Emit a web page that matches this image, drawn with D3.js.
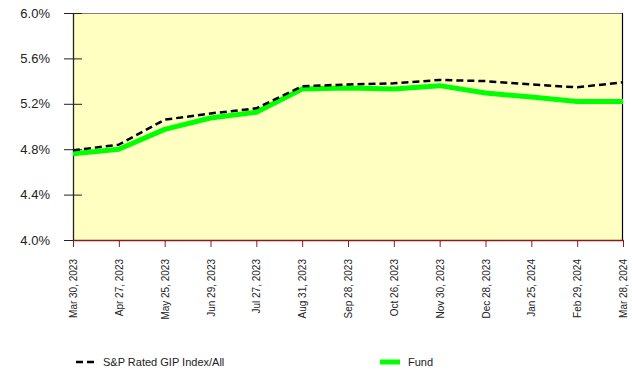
<!DOCTYPE html>
<html>
<head>
<meta charset="utf-8">
<script src="https://cdn.jsdelivr.net/npm/d3@7"></script>
<style>
  html, body { margin: 0; padding: 0; background: #fff; }
  svg text { font-family: "Liberation Sans", Arial, sans-serif; }
</style>
</head>
<body>
<svg id="chart" width="632" height="371"></svg>
<script>
// Month-end dates shown on the horizontal axis
const dates = ["Mar 30, 2023", "Apr 27, 2023", "May 25, 2023", "Jun 29, 2023", "Jul 27, 2023",
  "Aug 31, 2023", "Sep 28, 2023", "Oct 26, 2023", "Nov 30, 2023", "Dec 28, 2023",
  "Jan 25, 2024", "Feb 29, 2024", "Mar 28, 2024"];

// Yields in percent
const indexValues = [4.79, 4.84, 5.06, 5.115, 5.16, 5.355, 5.37, 5.38, 5.41, 5.40, 5.37, 5.345, 5.39];
const fundValues  = [4.76, 4.80, 4.975, 5.075, 5.125, 5.33, 5.34, 5.33, 5.36, 5.295, 5.26, 5.22, 5.22];

const yTicks = [4.0, 4.4, 4.8, 5.2, 5.6, 6.0];

const seriesNames = ["S&P Rated GIP Index/All", "Fund"];

const svg = d3.select("#chart");
const margin = { left: 73, right: 9, top: 13, bottom: 131 };
const W = 632, H = 371;
const x0 = margin.left, x1 = W - margin.right;
const y0 = H - margin.bottom, y1 = margin.top;

const x = d3.scalePoint().domain(dates).range([x0, x1]);
const y = d3.scaleLinear().domain([4.0, 6.0]).range([y0, y1]);

// plot background
svg.append("rect")
  .attr("x", x0).attr("y", y1)
  .attr("width", x1 - x0).attr("height", y0 - y1)
  .attr("fill", "#ffffc1");

// frame: top (grey), right (black)
svg.append("line").attr("x1", x0).attr("x2", x1).attr("y1", y1 + 0.5).attr("y2", y1 + 0.5)
  .attr("stroke", "#808080").attr("stroke-width", 1.2);
svg.append("line").attr("x1", x1 - 0.5).attr("x2", x1 - 0.5).attr("y1", y1).attr("y2", y0)
  .attr("stroke", "#000").attr("stroke-width", 1.2);

// y axis
const yAxis = svg.append("g").attr("transform", `translate(${x0},0)`)
  .call(d3.axisLeft(y).tickValues(yTicks).tickFormat(d => d.toFixed(1) + "%").tickSize(9).tickSizeOuter(0));
yAxis.select(".domain").attr("stroke", "#222").attr("stroke-width", 1.3);
yAxis.selectAll(".tick line").attr("x2", 9).attr("x1", -9).attr("stroke", "#222");
yAxis.selectAll(".tick text").attr("x", -23).attr("font-size", 13).attr("fill", "#222");

// x axis
const xAxis = svg.append("g").attr("transform", `translate(0,${y0})`)
  .call(d3.axisBottom(x).tickSize(7).tickSizeOuter(0));
xAxis.select(".domain").attr("stroke", "#8b1a1a").attr("stroke-width", 1.3);
xAxis.selectAll(".tick line").attr("stroke", "#8b1a1a");
xAxis.selectAll(".tick text")
  .attr("font-size", 10).attr("fill", "#222")
  .attr("transform", "rotate(-90)")
  .attr("text-anchor", "end")
  .attr("x", -19).attr("y", 0).attr("dy", "0.35em");

const line = d3.line().x((d, i) => x(dates[i])).y(d => y(d));

// fund line
svg.append("path").datum(fundValues)
  .attr("d", line).attr("fill", "none")
  .attr("stroke", "#00ff00").attr("stroke-width", 5).attr("stroke-linejoin", "round");

// index line
svg.append("path").datum(indexValues)
  .attr("d", line).attr("fill", "none")
  .attr("stroke", "#000").attr("stroke-width", 2.5).attr("stroke-dasharray", "7,4");

// legend
const ly = 362;
const lg = svg.append("g");
lg.append("line").attr("x1", 76).attr("x2", 95).attr("y1", ly).attr("y2", ly)
  .attr("stroke", "#000").attr("stroke-width", 2.5).attr("stroke-dasharray", "7,4");
lg.append("text").attr("x", 103).attr("y", ly).attr("dy", "0.35em")
  .attr("font-size", 11).attr("fill", "#222").text(seriesNames[0]);
lg.append("line").attr("x1", 380).attr("x2", 400).attr("y1", ly).attr("y2", ly)
  .attr("stroke", "#00ff00").attr("stroke-width", 5);
lg.append("text").attr("x", 408).attr("y", ly).attr("dy", "0.35em")
  .attr("font-size", 11).attr("fill", "#222").text(seriesNames[1]);
</script>
</body>
</html>
